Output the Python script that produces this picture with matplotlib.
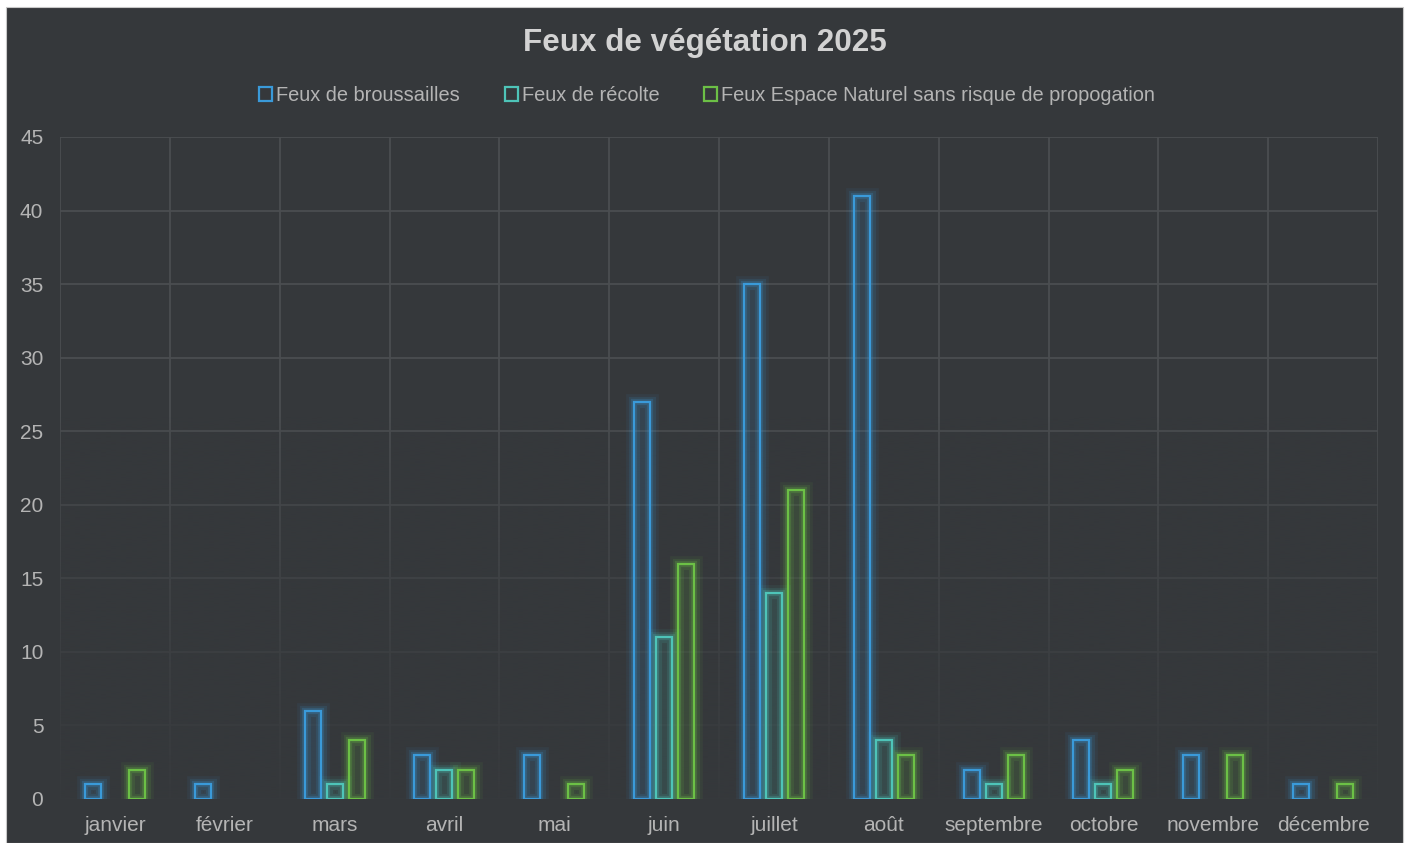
import matplotlib
matplotlib.use("Agg")
import matplotlib.pyplot as plt
import matplotlib.patheffects as pe
from matplotlib.patches import Patch, Rectangle
import numpy as np

months = ["janvier", "février", "mars", "avril", "mai", "juin", "juillet",
          "août", "septembre", "octobre", "novembre", "décembre"]
broussailles = [1, 1, 6, 3, 3, 27, 35, 41, 2, 4, 3, 1]
recolte = [0, 0, 1, 2, 0, 11, 14, 4, 1, 1, 0, 0]
naturel = [2, 0, 4, 2, 1, 16, 21, 3, 3, 2, 3, 1]
series_names = ["Feux de broussailles", "Feux de récolte",
                "Feux Espace Naturel sans risque de propogation"]
colors = ["#3a9ad9", "#4ec4b8", "#6cc046"]
title = "Feux de végétation 2025"

plt.rcParams['font.family'] = ['Liberation Sans', 'DejaVu Sans']
BG = "#35383b"
TXT = "#b4b4b4"

fig = plt.figure(figsize=(14.07, 8.43), dpi=100, facecolor="white")
fig.patches.append(Rectangle((6 / 1407, 0), (1403 - 6) / 1407, (843 - 7) / 843,
                             transform=fig.transFigure, facecolor=BG,
                             edgecolor="#c8c8c8", linewidth=0.8, zorder=-10))

L, R, T, B = 60, 1378, 137, 799
ax = fig.add_axes([L / 1407, 1 - B / 843, (R - L) / 1407, (B - T) / 843])
ax.set_facecolor(BG)
ax.patch.set_alpha(0)

x = np.arange(len(months))
ax.set_xlim(-0.5, len(months) - 0.5)
ax.set_ylim(0, 45)

# gridlines
for v in range(0, 46, 5):
    ax.axhline(v, color="#4b4e51", lw=1.3, zorder=0.5)
for b in np.arange(-0.5, len(months) + 0.5, 1):
    ax.axvline(b, color="#4b4e51", lw=1.3, zorder=0.5)

# fade toward the bottom
grad = np.zeros((200, 1, 4))
grad[..., :3] = matplotlib.colors.to_rgb(BG)
yy = np.linspace(0, 45, 200)
grad[:, 0, 3] = np.clip((26 - yy) / 26, 0, 1) ** 0.7 * 0.92
ax.imshow(grad, extent=(-0.5, len(months) - 0.5, 0, 45), origin="lower",
          aspect="auto", zorder=0.8, interpolation="bilinear")

w = 0.145
offsets = [-0.2, 0.0, 0.2]
for vals, col, off in zip([broussailles, recolte, naturel], colors, offsets):
    heights = [v if v > 0 else np.nan for v in vals]
    glow = ax.bar(x + off, heights, width=w, facecolor="none",
                  edgecolor=col, linewidth=1.6, zorder=2)
    for bar in glow:
        bar.set_path_effects([
            pe.Stroke(linewidth=12, foreground=col, alpha=0.07),
            pe.Stroke(linewidth=8, foreground=col, alpha=0.12),
            pe.Stroke(linewidth=4.5, foreground=col, alpha=0.22)])
    ax.bar(x + off, heights, width=w,
           facecolor=matplotlib.colors.to_rgba(col, 0.07),
           edgecolor=col, linewidth=1.6, zorder=3)

ax.set_xticks(x)
ax.set_xticklabels(months)
ax.set_yticks(range(0, 46, 5))
ax.tick_params(axis="both", length=0, colors=TXT, labelsize=15)
ax.tick_params(axis="x", pad=12.5)
ax.tick_params(axis="y", pad=12)
for s in ax.spines.values():
    s.set_visible(False)

fig.text(705 / 1407, 1 - 43.5 / 843, title, ha="center", va="center",
         fontsize=22.6, fontweight="bold", color="#d2d2d2")

handles = [Patch(facecolor="none", edgecolor=c, linewidth=1.6) for c in colors]
fig.legend(handles, series_names, loc="center", ncol=3,
           bbox_to_anchor=(707 / 1407, 1 - 95.5 / 843), frameon=False,
           fontsize=14.4, labelcolor=TXT, handlelength=0.65, handleheight=0.65,
           handletextpad=0.2, columnspacing=2.25)

fig.savefig("out.png", dpi=100, facecolor=fig.get_facecolor())
